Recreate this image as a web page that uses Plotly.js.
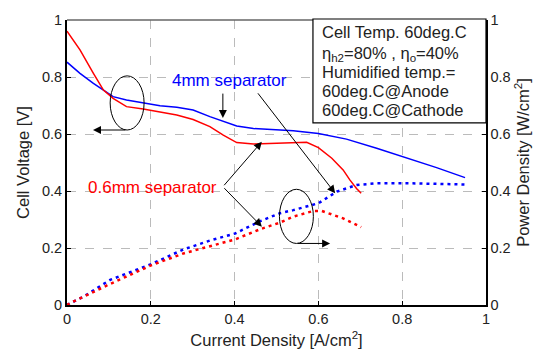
<!DOCTYPE html>
<html><head><meta charset="utf-8">
<script src="https://cdn.plot.ly/plotly-3.0.1.min.js"></script>
<style>html,body{margin:0;padding:0;background:#fff}#chart{width:543px;height:356px}</style>
</head><body><div id="chart"></div>
<script>
// Cell voltage, 4mm separator (blue)
const v4mmX = [0, 0.031, 0.063, 0.087, 0.11, 0.142, 0.182, 0.222, 0.262, 0.301, 0.341, 0.381, 0.405, 0.445, 0.50, 0.54, 0.60, 0.667, 0.739, 0.803, 0.882, 0.95];
const v4mmY = [0.852, 0.813, 0.778, 0.754, 0.731, 0.719, 0.708, 0.699, 0.694, 0.684, 0.661, 0.640, 0.628, 0.619, 0.614, 0.611, 0.602, 0.582, 0.550, 0.520, 0.482, 0.447];
// Cell voltage, 0.6mm separator (red)
const v06X = [0, 0.031, 0.063, 0.087, 0.11, 0.142, 0.182, 0.222, 0.262, 0.301, 0.341, 0.373, 0.405, 0.445, 0.50, 0.572, 0.60, 0.632, 0.659, 0.675, 0.691, 0.702];
const v06Y = [0.961, 0.895, 0.813, 0.754, 0.725, 0.696, 0.688, 0.678, 0.667, 0.651, 0.626, 0.596, 0.570, 0.565, 0.567, 0.571, 0.552, 0.515, 0.474, 0.439, 0.409, 0.392];
// Power density, 4mm separator (blue dotted)
const p4mmX = [0, 0.039, 0.103, 0.142, 0.202, 0.278, 0.341, 0.401, 0.461, 0.508, 0.54, 0.60, 0.644, 0.691, 0.739, 0.818, 0.95];
const p4mmY = [0, 0.029, 0.088, 0.109, 0.144, 0.195, 0.226, 0.251, 0.294, 0.322, 0.333, 0.357, 0.398, 0.421, 0.427, 0.427, 0.423];
// Power density, 0.6mm separator (red dotted)
const p06X = [0, 0.015, 0.103, 0.142, 0.202, 0.278, 0.341, 0.401, 0.461, 0.508, 0.54, 0.588, 0.608, 0.659, 0.702];
const p06Y = [0, 0.012, 0.074, 0.099, 0.140, 0.181, 0.207, 0.230, 0.266, 0.289, 0.310, 0.330, 0.330, 0.304, 0.273];

const tickVals = [0, 0.2, 0.4, 0.6, 0.8, 1];
const tickText = ['0', '0.2', '0.4', '0.6', '0.8', '1'];
const boxLines = ['Cell Temp. 60deg.C', 'η<sub>h2</sub>=80% , η<sub>o</sub>=40%', 'Humidified temp.=', '60deg.C@Anode', '60deg.C@Cathode'];

const font = 'Arial, "Liberation Sans", sans-serif';
const traces = [
  {x: v4mmX, y: v4mmY, mode: 'lines', line: {color: '#0000ff', width: 1.5}, yaxis: 'y'},
  {x: v06X, y: v06Y, mode: 'lines', line: {color: '#ff0000', width: 1.5}, yaxis: 'y'},
  {x: p4mmX, y: p4mmY, mode: 'lines', line: {color: '#0000ff', width: 2.5, dash: '3px,4px'}, yaxis: 'y2'},
  {x: p06X, y: p06Y, mode: 'lines', line: {color: '#ff0000', width: 2.5, dash: '3px,4px'}, yaxis: 'y2'}
];

function arrow(x, y, ax, ay) {
  return {x: x, y: y, ax: ax, ay: ay, xref: 'x', yref: 'y', axref: 'x', ayref: 'y',
    showarrow: true, arrowhead: 2, arrowsize: 1.6, arrowwidth: 1, arrowcolor: '#000', text: '', standoff: 0};
}

const boxY = [0.958, 0.882, 0.816, 0.750, 0.684];
const boxAnn = boxLines.map((t, i) => ({text: t, xref: 'paper', yref: 'paper', x: 0.604, y: boxY[i],
  xanchor: 'left', yanchor: 'middle', showarrow: false, font: {size: 16.5, color: '#222'}}));

const layout = {
  width: 543, height: 356,
  margin: {l: 67, r: 57, t: 20, b: 51},
  paper_bgcolor: '#fff', plot_bgcolor: '#fff',
  showlegend: false,
  font: {family: font, size: 14.5, color: '#222'},
  xaxis: {range: [0, 1], tickvals: tickVals, ticktext: tickText, showgrid: true, gridcolor: '#bbb', griddash: 'dash', gridwidth: 1,
    showline: true, linecolor: '#000', linewidth: 2, ticks: 'inside', ticklen: 4, tickcolor: '#000', zeroline: false,
    title: {text: 'Current Density [A/cm<sup>2</sup>]', font: {size: 16.5}, standoff: 8}},
  yaxis: {range: [0, 1], tickvals: tickVals, ticktext: tickText, showgrid: true, gridcolor: '#bbb', griddash: 'dash', gridwidth: 1,
    showline: true, linecolor: '#000', linewidth: 2, ticks: 'inside', ticklen: 4, tickcolor: '#000', zeroline: false,
    title: {text: 'Cell Voltage [V]', font: {size: 16.5}, standoff: 8}},
  yaxis2: {range: [0, 1], tickvals: tickVals, ticktext: tickText, overlaying: 'y', side: 'right', showgrid: false,
    showline: true, linecolor: '#000', linewidth: 1.5, ticks: 'inside', ticklen: 4, tickcolor: '#000', zeroline: false,
    title: {text: 'Power Density [W/cm<sup>2</sup>]', font: {size: 16.5}, standoff: 8}},
  shapes: [
    {type: 'line', xref: 'paper', yref: 'paper', x0: 0, x1: 1, y0: 1, y1: 1, line: {color: '#666', width: 1.5}},
    {type: 'rect', xref: 'paper', yref: 'paper', x0: 0.587, x1: 1.0, y0: 0.639, y1: 1.0035, fillcolor: '#fff', line: {color: '#000', width: 1.2}},
    {type: 'circle', xref: 'x', yref: 'y', x0: 0.103, x1: 0.184, y0: 0.614, y1: 0.804, line: {color: '#000', width: 1}},
    {type: 'circle', xref: 'x', yref: 'y', x0: 0.507, x1: 0.588, y0: 0.216, y1: 0.406, line: {color: '#000', width: 1}}
  ],
  annotations: [
    {text: '4mm separator', x: 0.388, y: 0.789, xref: 'x', yref: 'y', showarrow: false, font: {color: '#0000ff', size: 17}},
    {text: '0.6mm separator', x: 0.204, y: 0.414, xref: 'x', yref: 'y', showarrow: false, font: {color: '#ff0000', size: 17}},
    ...boxAnn,
    arrow(0.062, 0.614, 0.143, 0.614),
    arrow(0.628, 0.216, 0.547, 0.216),
    arrow(0.372, 0.656, 0.372, 0.747),
    arrow(0.640, 0.392, 0.453, 0.748),
    arrow(0.465, 0.573, 0.372, 0.415),
    arrow(0.465, 0.275, 0.372, 0.415)
  ]
};

Plotly.newPlot('chart', traces, layout, {staticPlot: true, displayModeBar: false});
</script></body></html>
